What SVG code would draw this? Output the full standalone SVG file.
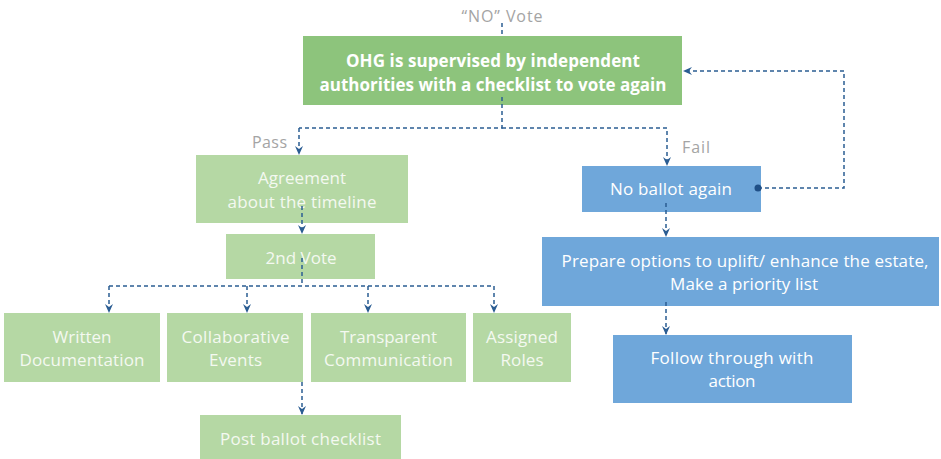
<svg xmlns="http://www.w3.org/2000/svg" width="941" height="459" viewBox="0 0 941 459">
  <defs>
    <marker id="arrow" viewBox="0 0 9 9" markerWidth="9" markerHeight="9" refX="9" refY="4.5" orient="auto" markerUnits="userSpaceOnUse">
      <path d="M0,0.5 L9,4.5 L0,8.5 L3,4.5 z" fill="#2b5d93"/>
    </marker>
    <style>
      .dark { fill: #8dc47c; }
      .light { fill: #b5d8a4; }
      .blue { fill: #6fa7da; }
      .t { font-family: "Open Sans", "Noto Sans", sans-serif; font-size: 17px; fill: #ffffff; text-anchor: middle; }
      .tl { fill: #f4f9f1; }
      .tb { font-weight: bold; }
      .lbl { font-family: "Open Sans", "Noto Sans", sans-serif; font-size: 16px; fill: #a4a4a4; }
      .c { fill: none; stroke: #2b5d93; stroke-width: 1.5; stroke-dasharray: 4 3; }
      .ca { marker-end: url(#arrow); }
    </style>
  </defs>
  <rect width="941" height="459" fill="#ffffff"/>

  <!-- edge labels -->
  <text class="lbl" x="502" y="22" text-anchor="middle" textLength="81">“NO” Vote</text>
  <text class="lbl" x="252" y="148" textLength="35">Pass</text>
  <text class="lbl" x="682" y="153" textLength="28">Fail</text>

  <g id="n-supervised">
    <rect class="dark" x="303" y="36" width="379" height="69"/>
    <text class="t tb" x="493" y="66.5" textLength="294">OHG is supervised by independent</text>
    <text class="t tb" x="493" y="90.5" textLength="347">authorities with a checklist to vote again</text>
  </g>

  <g id="n-agreement">
    <rect class="light" x="196" y="155" width="212" height="68"/>
    <text class="t tl" x="302" y="184" textLength="88">Agreement</text>
    <text class="t tl" x="302" y="208" textLength="149">about the timeline</text>
  </g>

  <g id="n-vote2">
    <rect class="light" x="226" y="234" width="149" height="45"/>
    <text class="t tl" x="301" y="264" textLength="71">2nd Vote</text>
  </g>

  <g id="n-written">
    <rect class="light" x="4" y="313" width="156" height="69"/>
    <text class="t tl" x="82" y="343" textLength="59">Written</text>
    <text class="t tl" x="82" y="366" textLength="125">Documentation</text>
  </g>

  <g id="n-collab">
    <rect class="light" x="167" y="313" width="136" height="69"/>
    <text class="t tl" x="235.5" y="343" textLength="108">Collaborative</text>
    <text class="t tl" x="235.5" y="366" textLength="53">Events</text>
  </g>

  <g id="n-transparent">
    <rect class="light" x="311" y="313" width="155" height="69"/>
    <text class="t tl" x="388.5" y="343" textLength="97">Transparent</text>
    <text class="t tl" x="388.5" y="366" textLength="129">Communication</text>
  </g>

  <g id="n-roles">
    <rect class="light" x="473" y="313" width="98" height="69"/>
    <text class="t tl" x="522" y="343" textLength="72">Assigned</text>
    <text class="t tl" x="522" y="366" textLength="43">Roles</text>
  </g>

  <g id="n-postballot">
    <rect class="light" x="200" y="415" width="201" height="50"/>
    <text class="t tl" x="300.5" y="445" textLength="161">Post ballot checklist</text>
  </g>

  <g id="n-noballot">
    <rect class="blue" x="582" y="166" width="179" height="46"/>
    <text class="t" x="671" y="195" textLength="122">No ballot again</text>
  </g>

  <g id="n-prepare">
    <rect class="blue" x="542" y="237" width="397" height="69"/>
    <text class="t" x="745" y="267" textLength="367">Prepare options to uplift/ enhance the estate,</text>
    <text class="t" x="744" y="290" textLength="148">Make a priority list</text>
  </g>

  <g id="n-follow">
    <rect class="blue" x="613" y="335" width="239" height="68"/>
    <text class="t" x="732" y="364" textLength="163">Follow through with</text>
    <text class="t" x="732" y="387" textLength="47">action</text>
  </g>

  <!-- connectors, drawn over the boxes -->
  <g id="connectors">
    <path class="c" d="M502,23 V36"/>
    <path class="c" d="M502,97 V128 H299"/>
    <path class="c ca" d="M299,128 V155"/>
    <path class="c ca" d="M502,128 H667 V166"/>
    <path class="c ca" d="M302,206 V234"/>
    <path class="c" d="M302,258 V286"/>
    <path class="c" d="M109,286 H494"/>
    <path class="c ca" d="M109,286 V313"/>
    <path class="c ca" d="M247,286 V313"/>
    <path class="c ca" d="M368,286 V313"/>
    <path class="c ca" d="M494,286 V313"/>
    <path class="c ca" d="M302,382 V415"/>
    <path class="c ca" d="M666,203 V237"/>
    <path class="c ca" d="M666,302 V335"/>
    <path class="c ca" d="M758,188 H844 V71 H683"/>
    <circle cx="758" cy="188" r="3.5" fill="#1f4f86"/>
  </g>
</svg>
